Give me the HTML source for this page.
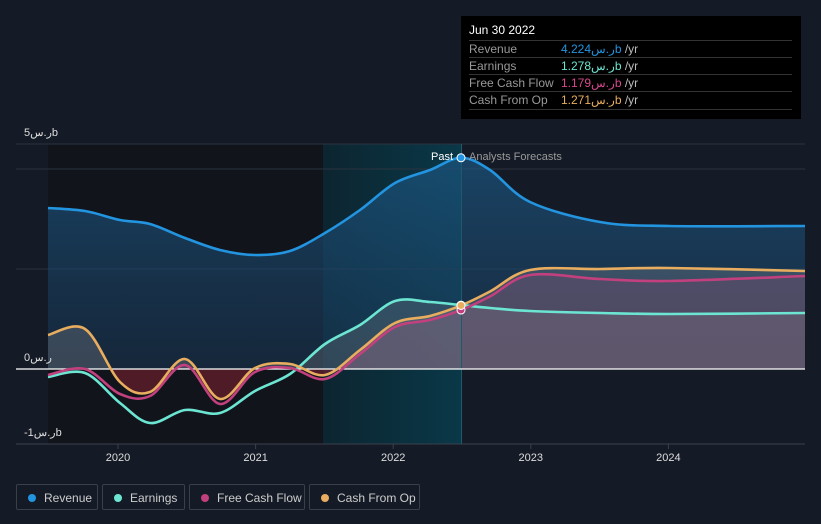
<!DOCTYPE html>
<html><head><meta charset="utf-8"><style>
body{margin:0;background:#151b26;font-family:"Liberation Sans","Noto Sans CJK SC",sans-serif;}
#wrap{position:relative;width:821px;height:524px;overflow:hidden;background:#151b26}
.tt{position:absolute;left:461px;top:16px;width:340px;height:103px;background:#000;color:#fff;font-size:12px}
.tt .h{position:absolute;left:8px;top:7px;font-size:12px}
.row{position:absolute;left:8px;width:323px;height:17px;border-top:1px solid #333;color:#999;line-height:17px}
.row span{position:absolute;left:92px}
.leg{position:absolute;top:484px;height:26px;border:1px solid #3a3f4a;border-radius:2px;color:#ccc;font-size:12px;line-height:26px;box-sizing:border-box}
.leg i{position:absolute;left:11px;top:9px;width:8px;height:8px;border-radius:50%}
.leg b{font-weight:normal;position:absolute;left:27px}
</style></head><body>
<div id="wrap">
<svg id="svg" width="821" height="524" style="position:absolute;left:0;top:0"></svg>
<div class="tt">
<div class="h">Jun 30 2022</div>
<div class="row" style="top:24px">Revenue<span style="color:#2394df">4.224ر.سb <em style="color:#bbb;font-style:normal">/yr</em></span></div>
<div class="row" style="top:41px">Earnings<span style="color:#6ce6d2">1.278ر.سb <em style="color:#bbb;font-style:normal">/yr</em></span></div>
<div class="row" style="top:58px">Free Cash Flow<span style="color:#d6498d">1.179ر.سb <em style="color:#bbb;font-style:normal">/yr</em></span></div>
<div class="row" style="top:75px;border-bottom:1px solid #333">Cash From Op<span style="color:#e8ad5e">1.271ر.سb <em style="color:#bbb;font-style:normal">/yr</em></span></div>
</div>
<div class="leg" style="left:16px;width:82px"><i style="background:#2394df"></i><b>Revenue</b></div>
<div class="leg" style="left:102px;width:83px"><i style="background:#6ce6d2"></i><b>Earnings</b></div>
<div class="leg" style="left:189px;width:116px"><i style="background:#c2407e"></i><b>Free Cash Flow</b></div>
<div class="leg" style="left:309px;width:111px"><i style="background:#e8ad5e"></i><b>Cash From Op</b></div>
</div>
<script>
const xs=[48,85,120,150,185,220,255,290,325,360,395,430,461,490,530,600,669,805];
const dates=xs.map(x=>2020+(x-118)/137.6);
const revenue=[3.22,3.16,2.98,2.9,2.62,2.38,2.28,2.36,2.72,3.18,3.72,3.98,4.224,3.98,3.34,2.94,2.86,2.86];
const earnings=[-0.16,-0.08,-0.68,-1.08,-0.82,-0.88,-0.44,-0.1,0.5,0.88,1.36,1.34,1.278,1.22,1.16,1.12,1.1,1.12];
const fcf=[-0.12,0,-0.5,-0.54,0.08,-0.7,-0.06,0.02,-0.2,0.3,0.84,0.98,1.179,1.45,1.88,1.8,1.76,1.86];
const cfo=[0.68,0.8,-0.26,-0.46,0.2,-0.6,0.02,0.1,-0.12,0.38,0.92,1.06,1.271,1.55,1.98,2.0,2.02,1.96];
const years=[2020,2021,2022,2023,2024];
const X=d=>118+(d-2020)*137.6, Y=v=>369-v*50;
const NS='http://www.w3.org/2000/svg', svg=document.getElementById('svg');
function add(tag,at,name,parent){const e=document.createElementNS(NS,tag);for(const k in at)e.setAttribute(k,at[k]);


(parent||svg).appendChild(e);return e;}
function path(vals){const p=vals.map((v,i)=>[X(dates[i]),Y(v)]);let d='M'+p[0];
for(let i=0;i<p.length-1;i++){const a=p[i-1]||p[i],b=p[i],c=p[i+1],e=p[i+2]||c;
d+=` C${b[0]+(c[0]-a[0])/6},${b[1]+(c[1]-a[1])/6} ${c[0]-(e[0]-b[0])/6},${c[1]-(e[1]-b[1])/6} ${c[0]},${c[1]}`;}return d;}
function area(vals){return path(vals)+` L${X(dates[dates.length-1])},${Y(0)} L${X(dates[0])},${Y(0)} Z`;}
const defs=add('defs',{},'defs');
defs.innerHTML='<linearGradient id="gb" x1="0" y1="0" x2="0" y2="1"><stop offset="0" stop-color="#1b5580" stop-opacity="0.7"/><stop offset="1" stop-color="#1b3a5a" stop-opacity="0.5"/></linearGradient><linearGradient id="gh" x1="0" y1="0" x2="1" y2="0"><stop offset="0" stop-color="#0c2530"/><stop offset="1" stop-color="#0a3848"/></linearGradient><clipPath id="above"><rect x="0" y="0" width="821" height="369"/></clipPath><clipPath id="below"><rect x="0" y="369" width="821" height="100"/></clipPath>';
add('rect',{x:48,y:144,width:275,height:300,fill:'#11141b'},'past-background');
add('rect',{x:323,y:144,width:138,height:300,fill:'url(#gh)'},'recent-highlight');
[144,169,269].forEach(y=>add('line',{x1:16,x2:805,y1:y,y2:y,stroke:'#2c3340'},'gridline'));
add('line',{x1:16,x2:805,y1:444,y2:444,stroke:'#3a404c'},'x-axis-line');
add('path',{d:area(revenue),fill:'url(#gb)'},'revenue-area');
add('path',{d:area(cfo),fill:'#8a8f96',opacity:0.3,'clip-path':'url(#above)'},'cfo-area');
add('path',{d:area(earnings),fill:'#7a8088',opacity:0.3,'clip-path':'url(#above)'},'earnings-area');
add('path',{d:area(cfo),fill:'#7a2030',opacity:0.6,'clip-path':'url(#below)'},'cfo-negative-area');
add('path',{d:area(fcf),fill:'#c2407e',opacity:0.15,'clip-path':'url(#above)'},'fcf-area');
add('rect',{x:461,y:144,width:1,height:300,fill:'#1f5a6a'},'now-line');
add('line',{x1:16,x2:805,y1:369,y2:369,stroke:'#fff','stroke-width':1.2},'zero-line');
[['revenue',revenue,'#2394df'],['earnings',earnings,'#6ce6d2'],['fcf',fcf,'#c2407e'],['cfo',cfo,'#e8ad5e']].forEach(s=>{
add('path',{d:path(s[1]),fill:'none',stroke:s[2],'stroke-width':2.6},s[0]+'-line');});
[[revenue,'#2394df'],[earnings,'#6ce6d2'],[fcf,'#c2407e'],[cfo,'#e8ad5e']].forEach(s=>{
add('circle',{cx:X(dates[12]),cy:Y(s[0][12]),r:4,fill:s[1],stroke:'#fff','stroke-width':1},'marker-now');});
function txt(x,y,t,fill,anchor,name,size){const e=add('text',{x:x,y:y,fill:fill,'font-size':size||11,'text-anchor':anchor||'start'},name);e.textContent=t;}
years.forEach(yr=>{add('line',{x1:X(yr),x2:X(yr),y1:444,y2:449,stroke:'#3a404c'},'x-tick');txt(X(yr),461,String(yr),'#ddd','middle','x-tick-label');});
txt(24,136,'5ر.سb','#ddd','start','y-label-5b');
txt(24,361,'0ر.س','#ddd','start','y-label-0');
txt(24,436,'-1ر.سb','#ddd','start','y-label-neg1b');
txt(453,160,'Past','#fff','end','past-label');
txt(469,160,'Analysts Forecasts','#999','start','forecast-label');
</script>
</body></html>
